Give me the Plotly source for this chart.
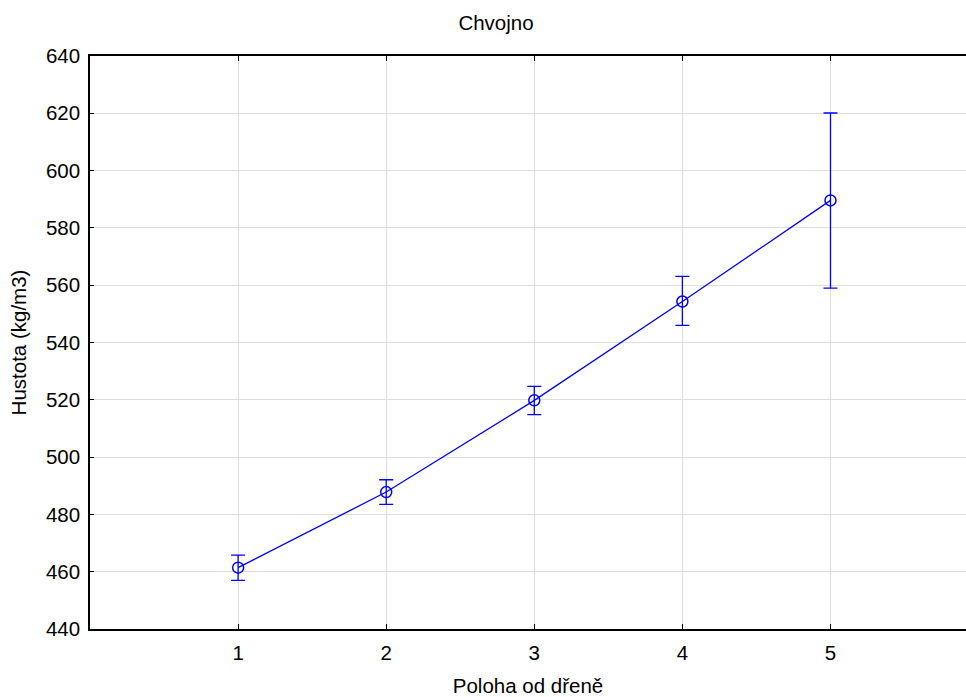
import plotly.graph_objects as go

positions = [1, 2, 3, 4, 5]
means = [461.4, 487.8, 519.8, 554.3, 589.6]
upper = [465.8, 492.1, 524.7, 563.1, 620.1]
lower = [457.0, 483.5, 514.8, 546.0, 559.0]

err_plus = [u - m for u, m in zip(upper, means)]
err_minus = [m - l for m, l in zip(means, lower)]

FONT = "Liberation Sans, Arial, sans-serif"
BLUE = "#0000FF"
FS = 20.5

fig = go.Figure()
fig.add_trace(go.Scatter(
    x=positions, y=means, mode="lines+markers",
    line=dict(color=BLUE, width=1.3),
    marker=dict(symbol="circle-open", size=11, color=BLUE, line=dict(width=1.5, color=BLUE)),
    error_y=dict(type="data", symmetric=False, array=err_plus, arrayminus=err_minus,
                 color=BLUE, thickness=1.3, width=7),
    showlegend=False,
))

fig.update_layout(
    width=966, height=697,
    margin=dict(l=90, r=0, t=56, b=68),
    paper_bgcolor="white", plot_bgcolor="white",
    font=dict(family=FONT, size=FS, color="black"),
    title=dict(text="Chvojno", x=496 / 966, xanchor="center", xref="container",
               y=1 - 23 / 697, yanchor="middle", yref="container",
               font=dict(family=FONT, size=FS, color="black")),
    xaxis=dict(
        range=[0, 5.915], tickvals=positions, ticktext=[str(p) for p in positions],
        showgrid=True, gridcolor="#dedede", gridwidth=1,
        showline=True, linecolor="black", linewidth=1.5, mirror="ticks",
        ticks="inside", ticklen=5, tickcolor="black", tickwidth=1,
        ticklabelstandoff=5,
        zeroline=False,
        title=dict(text="Poloha od dřeně", standoff=17, font=dict(size=FS)),
        tickfont=dict(size=FS),
    ),
    yaxis=dict(
        range=[440, 640], tickvals=list(range(440, 641, 20)),
        showgrid=True, gridcolor="#dedede", gridwidth=1,
        showline=True, linecolor="black", linewidth=1.5, mirror=False,
        ticks="inside", ticklen=4, tickcolor="black", tickwidth=1,
        ticklabelstandoff=4,
        zeroline=False,
        title=dict(text="Hustota (kg/m3)", standoff=14, font=dict(size=FS)),
        tickfont=dict(size=FS),
    ),
)

fig.write_html("out.html")
